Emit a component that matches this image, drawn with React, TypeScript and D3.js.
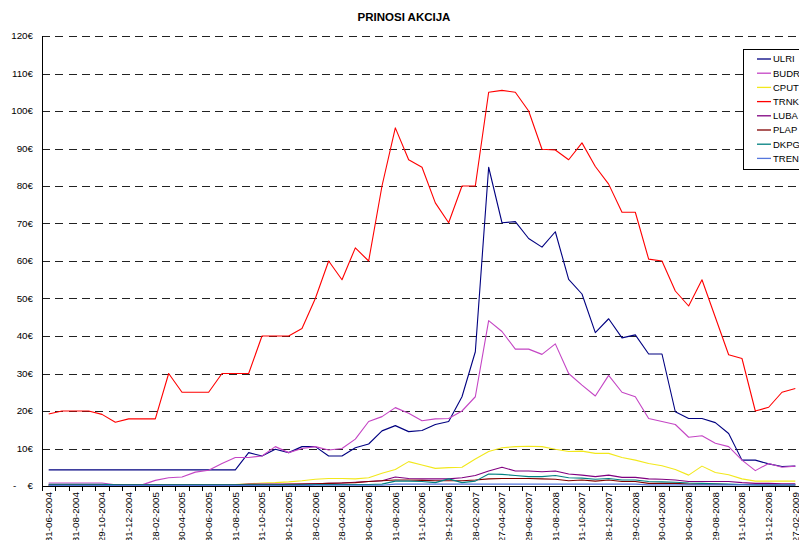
import React from "react";
import * as d3 from "d3";

const title = "PRINOSI AKCIJA";

// 57 monthly observations (Jun 2004 .. Feb 2009); labels shown on every 2nd one
const tickLabels = [
  "31-06-2004", "31-08-2004", "29-10-2004", "31-12-2004", "28-02-2005", "30-04-2005",
  "30-06-2005", "31-08-2005", "31-10-2005", "30-12-2005", "28-02-2006", "28-04-2006",
  "30-06-2006", "31-08-2006", "31-10-2006", "29-12-2006", "28-02-2007", "27-04-2007",
  "29-06-2007", "31-08-2008", "31-10-2007", "28-12-2007", "29-02-2008", "30-04-2008",
  "30-06-2008", "29-08-2008", "31-10-2008", "31-12-2008", "27-02-2009",
];

const yTicks = [0, 10, 20, 30, 40, 50, 60, 70, 80, 90, 100, 110, 120];

const seriesNames = ["ULRI", "BUDR", "CPUT", "TRNK", "LUBA", "PLAP", "DKPG", "TREN"];
const seriesColors = ["#000080", "#C445C4", "#F2E81C", "#FF0000", "#800080", "#800000", "#008080", "#5577DD"];

const ULRI = [
  4.3, 4.3, 4.3, 4.3, 4.3, 4.3, 4.3, 4.3, 4.3, 4.3, 4.3, 4.3, 4.3, 4.3, 4.3,
  8.9, 8.0, 9.8, 8.9, 10.5, 10.5, 8.0, 8.0, 10.2, 11.2, 14.7, 16.1, 14.5, 14.8, 16.4,
  17.2, 23.8, 35.8, 85.0, 70.2, 70.5, 66.0, 63.7, 67.8, 55.1, 51.2, 40.9, 44.6, 39.5,
  40.3, 35.2, 35.2, 19.8, 18.0, 18.0, 16.9, 14.0, 6.9, 6.9, 5.9, 5.2, 5.3,
];
const BUDR = [
  0.8, 0.8, 0.8, 0.8, 0.8, 0.3, 0.3, 0.3, 1.5, 2.2, 2.4, 3.7, 4.2, 6.0, 7.6,
  7.6, 8.0, 10.5, 8.9, 10.0, 10.5, 9.6, 10.0, 12.5, 17.2, 18.5, 20.9, 19.4, 17.4, 17.9,
  18.0, 20.0, 23.8, 44.1, 41.2, 36.5, 36.5, 35.1, 37.9, 30.0, 26.9, 24.0, 29.5, 25.0,
  23.8, 18.0, 17.2, 16.4, 13.0, 13.4, 11.4, 10.5, 6.9, 4.1, 6.0, 5.0, 5.3,
];
const CPUT = [
  0.3, 0.3, 0.3, 0.3, 0.3, 0.3, 0.3, 0.3, 0.3, 0.3, 0.3, 0.3, 0.3, 0.3, 0.4,
  0.6, 0.8, 0.9, 1.1, 1.4, 1.8, 2.0, 2.0, 1.9, 2.2, 3.4, 4.4, 6.5, 5.6, 4.7,
  4.9, 5.0, 7.2, 9.2, 10.2, 10.5, 10.6, 10.5, 9.8, 9.2, 9.3, 8.7, 8.7, 7.6,
  6.9, 6.0, 5.4, 4.4, 2.9, 5.3, 3.6, 3.0, 1.9, 1.3, 1.3, 1.3, 1.3,
];
const TRNK = [
  19.2, 20.0, 20.0, 20.0, 19.1, 17.0, 17.9, 17.9, 17.9, 30.0, 25.0, 25.0, 25.0, 30.0, 30.0,
  30.0, 40.0, 40.0, 40.0, 42.0, 50.0, 60.0, 55.0, 63.5, 60.0, 80.0, 95.5, 87.0, 85.0, 75.5,
  70.2, 80.0, 80.0, 105.0, 105.5, 105.0, 100.0, 89.8, 89.6, 87.0, 91.5, 85.2, 80.5, 73.0,
  73.0, 60.5, 60.0, 52.0, 48.0, 55.0, 45.0, 35.0, 34.0, 20.0, 21.0, 25.0, 26.0,
];
const LUBA = [
  0.3, 0.3, 0.3, 0.3, 0.3, 0.3, 0.3, 0.3, 0.3, 0.3, 0.3, 0.3, 0.3, 0.3, 0.3,
  0.5, 0.5, 0.5, 0.5, 0.5, 0.6, 0.7, 0.8, 1.0, 1.2, 1.4, 2.4, 2.0, 1.9, 1.9,
  1.9, 2.2, 2.8, 4.0, 5.0, 4.0, 4.0, 3.8, 4.0, 3.2, 2.9, 2.5, 2.9, 2.3,
  2.3, 1.9, 1.8, 1.6, 1.2, 1.2, 1.2, 1.2, 0.9, 0.7, 0.7, 0.6, 0.6,
];
const PLAP = [
  0.2, 0.2, 0.2, 0.2, 0.2, 0.2, 0.2, 0.2, 0.2, 0.2, 0.2, 0.2, 0.2, 0.2, 0.2,
  0.3, 0.3, 0.3, 0.45, 0.5, 0.6, 0.7, 0.8, 0.9, 1.2, 1.4, 1.6, 1.6, 1.5, 1.4,
  1.4, 1.4, 1.6, 1.9, 2.0, 2.0, 2.0, 1.9, 1.8, 1.4, 1.6, 1.3, 1.6, 1.2,
  1.2, 0.7, 0.7, 0.7, 0.5, 0.5, 0.5, 0.4, 0.4, 0.4, 0.3, 0.3, 0.3,
];
const DKPG = [
  0.45, 0.45, 0.45, 0.45, 0.45, 0.3, 0.3, 0.3, 0.3, 0.3, 0.3, 0.3, 0.3, 0.3, 0.3,
  0.3, 0.3, 0.3, 0.3, 0.3, 0.4, 0.4, 0.4, 0.4, 0.4, 0.5, 1.3, 1.3, 1.2, 0.9,
  1.9, 0.9, 1.3, 3.2, 3.1, 2.8, 2.5, 2.5, 2.8, 2.2, 2.1, 1.8, 2.0, 1.6,
  1.6, 1.2, 1.1, 1.0, 0.8, 0.7, 0.6, 0.5, 0.4, 0.3, 0.3, 0.3, 0.3,
];
const TREN = [
  0.1, 0.1, 0.1, 0.1, 0.1, 0.1, 0.1, 0.1, 0.1, 0.1, 0.1, 0.1, 0.1, 0.1, 0.1,
  0.1, 0.1, 0.1, 0.1, 0.1, 0.2, 0.2, 0.2, 0.2, 0.2, 0.2, 0.5, 0.5, 0.5, 0.5,
  0.5, 0.5, 0.5, 0.5, 0.5, 0.5, 0.5, 0.5, 0.5, 0.5, 0.5, 0.5, 0.5, 0.5,
  0.5, 0.3, 0.3, 0.3, 0.3, 0.3, 0.3, 0.3, 0.3, 0.3, 0.3, 0.3, 0.3,
];

const seriesValues = [ULRI, BUDR, CPUT, TRNK, LUBA, PLAP, DKPG, TREN];

const W = 799;
const H = 540;
const FONT = "'Liberation Sans', Arial, sans-serif";

export default function App() {
  const n = ULRI.length;
  const left = 42;
  const top = 36;
  const bottom = 486;
  const step = 13.333;
  const right = left + step * n;

  const x = d3.scaleBand<number>().domain(d3.range(n)).range([left, right]).padding(0);
  const cx = (i: number) => (x(i) as number) + x.bandwidth() / 2;
  const y = d3.scaleLinear().domain([0, 120]).range([bottom, top]);

  const line = d3
    .line<number>()
    .x((_, i) => cx(i))
    .y((d) => y(d));

  const legendX = 743.5;
  const legendY = 49.5;
  const legendStep = 14.2;

  return (
    <svg
      width={W}
      height={H}
      style={{ position: "absolute", left: 0, top: 0, background: "#fff" }}
      fontFamily={FONT}
    >
      <rect x={0} y={0} width={W} height={H} fill="#fff" />
      <text x={404} y={21} textAnchor="middle" fontSize={11.5} fontWeight="bold" fill="#000">
        {title}
      </text>

      {/* gridlines */}
      {yTicks
        .filter((v) => v > 0)
        .map((v) => (
          <line
            key={"g" + v}
            x1={left}
            x2={right}
            y1={Math.round(y(v)) + 0.5}
            y2={Math.round(y(v)) + 0.5}
            stroke="#222"
            strokeWidth={1}
            strokeDasharray="8 5.33"
            shapeRendering="crispEdges"
          />
        ))}

      {/* y labels */}
      {yTicks.map((v) =>
        v === 0 ? (
          <g key={"yl" + v}>
            <text x={13} y={y(0)} dy="0.35em" fontSize={9.8} fill="#000">
              -
            </text>
            <text x={33} y={y(0)} dy="0.35em" fontSize={9.8} textAnchor="end" fill="#000">
              €
            </text>
          </g>
        ) : (
          <text key={"yl" + v} x={33} y={y(v)} dy="0.35em" fontSize={9.8} textAnchor="end" fill="#000">
            {v + "€"}
          </text>
        )
      )}

      {/* series */}
      {seriesValues.map((vals, s) => (
        <path
          key={seriesNames[s]}
          d={line(vals) || ""}
          fill="none"
          stroke={seriesColors[s]}
          strokeWidth={1.1}
          strokeLinejoin="round"
        />
      ))}

      {/* axes */}
      <line x1={left + 0.5} x2={left + 0.5} y1={top} y2={bottom + 0.5} stroke="#000" shapeRendering="crispEdges" />
      <line x1={left} x2={right} y1={bottom + 0.5} y2={bottom + 0.5} stroke="#000" shapeRendering="crispEdges" />
      {d3.range(n + 1).map((k) => {
        const px = Math.round(left + k * step) + 0.5;
        return <line key={"xt" + k} x1={px} x2={px} y1={bottom} y2={bottom + 5} stroke="#000" shapeRendering="crispEdges" />;
      })}

      {/* x labels */}
      {tickLabels.map((lab, j) => {
        const px = cx(j * 2) + 3.5;
        return (
          <text
            key={"xl" + j}
            transform={`translate(${px},${492}) rotate(-90)`}
            textAnchor="end"
            fontSize={9.8}
            fill="#000"
          >
            {lab}
          </text>
        );
      })}

      {/* legend */}
      <rect
        x={legendX}
        y={legendY}
        width={70}
        height={120}
        fill="#fff"
        stroke="#000"
        strokeWidth={1}
        shapeRendering="crispEdges"
      />
      {seriesNames.map((name, s) => {
        const ly = 59 + s * legendStep;
        return (
          <g key={"lg" + name}>
            <line x1={757} x2={771} y1={ly} y2={ly} stroke={seriesColors[s]} strokeWidth={1.3} />
            <text x={773} y={ly} dy="0.35em" fontSize={9.5} fill="#000">
              {name}
            </text>
          </g>
        );
      })}
    </svg>
  );
}
